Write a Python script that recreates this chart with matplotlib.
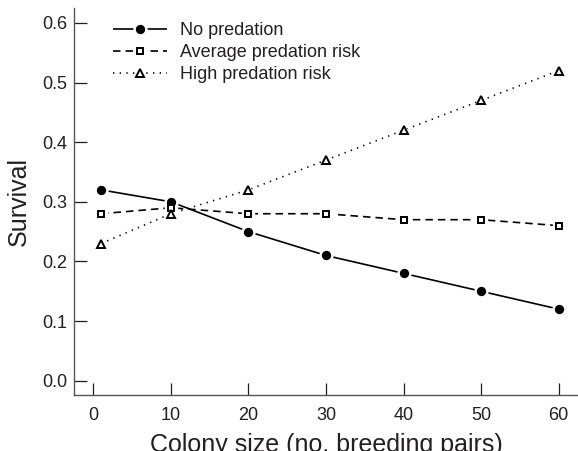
import matplotlib
matplotlib.use('Agg')
import matplotlib.pyplot as plt
from matplotlib.legend_handler import HandlerTuple

# 数据
colony_size = [1, 10, 20, 30, 40, 50, 60]
no_predation = [0.32, 0.30, 0.25, 0.21, 0.18, 0.15, 0.12]
average_risk = [0.28, 0.29, 0.28, 0.28, 0.27, 0.27, 0.26]
high_risk = [0.23, 0.28, 0.32, 0.37, 0.42, 0.47, 0.52]

labels = ['No predation', 'Average predation risk', 'High predation risk']
x_ticks = [0, 10, 20, 30, 40, 50, 60]
y_ticks = [0.0, 0.1, 0.2, 0.3, 0.4, 0.5, 0.6]

ink = '#231f20'
plt.rcParams['font.family'] = ['Liberation Sans', 'DejaVu Sans']
plt.rcParams['text.color'] = ink
plt.rcParams['axes.labelcolor'] = ink
plt.rcParams['xtick.color'] = ink
plt.rcParams['ytick.color'] = ink

fig = plt.figure(figsize=(5.78, 4.51), dpi=100)
ax = fig.add_axes([0.128, 0.1242, 0.872, 0.858])

series = [
    (no_predation, (0, ()), 'o', 'k', 5.3),
    (average_risk, (0, (4.5, 3)), 's', 'white', 4.3),
    (high_risk, (0, (0.8, 3.2)), '^', 'white', 5.3),
]

lines, halos, marks = [], [], []
for y, ls, mk, fc, ms in series:
    l, = ax.plot(colony_size, y, color='k', lw=1.2, linestyle=ls, zorder=2)
    lines.append(l)
for y, ls, mk, fc, ms in series:
    h, = ax.plot(colony_size, y, linestyle='none', marker=mk, ms=ms + 4,
                 mfc='white', mec='white', zorder=3)
    halos.append(h)
for y, ls, mk, fc, ms in series:
    m, = ax.plot(colony_size, y, linestyle='none', marker=mk, ms=ms,
                 mfc=fc, mec='k', mew=1.4, zorder=4)
    marks.append(m)

handles = [(lines[i], halos[i], marks[i]) for i in range(3)]
ax.legend(handles, labels, handler_map={tuple: HandlerTuple(ndivide=1)},
          loc='upper left', bbox_to_anchor=(0.077, 0.963), frameon=False,
          fontsize=13, handlelength=3.0, handletextpad=0.7, labelspacing=0.27,
          borderaxespad=0, borderpad=0)

ax.set_xlim(-2.49, 62.5)
ax.set_ylim(-0.024, 0.625)
ax.set_xticks(x_ticks)
ax.set_yticks(y_ticks)
ax.set_yticklabels(['%.1f' % v for v in y_ticks])

for s in ['top', 'right']:
    ax.spines[s].set_visible(False)
for s in ['left', 'bottom']:
    ax.spines[s].set_color('#555555')
    ax.spines[s].set_linewidth(1.0)

ax.tick_params(direction='in', length=9, width=0.9, labelsize=13, pad=5)
ax.tick_params(axis='x', pad=9)
ax.set_xlabel('Colony size (no. breeding pairs)', fontsize=18, labelpad=6)
ax.set_ylabel('Survival', fontsize=18, labelpad=8)

plt.savefig('out.png', dpi=100)
